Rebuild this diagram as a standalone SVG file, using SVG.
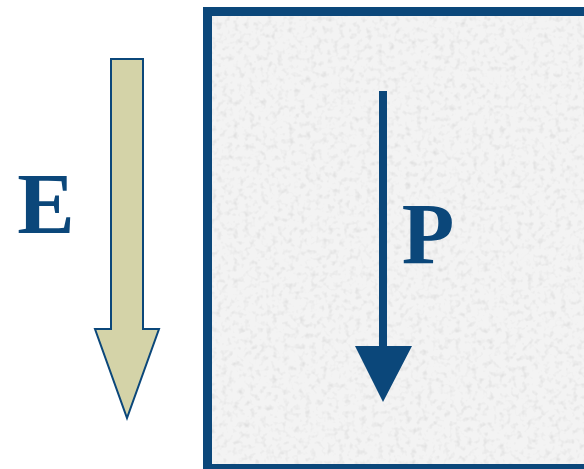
<svg xmlns="http://www.w3.org/2000/svg" width="584" height="469" viewBox="0 0 584 469">
  <defs>
    <style>
      .label { font-family: "Liberation Serif", "Times New Roman", serif; font-weight: bold; font-size: 86px; fill: #0b477a; text-anchor: middle; }
      .field-arrow { fill: #d4d3a8; stroke: #0b477a; stroke-width: 2; stroke-linejoin: miter; }
      .pol-arrow { fill: #0b477a; }
      .slab-frame { fill: none; stroke: #0b477a; stroke-width: 9; }
    </style>
    <!-- soft, blotchy light-grey surface for the slab -->
    <filter id="grain" x="0" y="0" width="100%" height="100%">
      <feTurbulence type="fractalNoise" baseFrequency="0.18" numOctaves="2" seed="7" result="noise"/>
      <feColorMatrix in="noise" type="matrix"
        values="0 0 0 0 0.55
                0 0 0 0 0.55
                0 0 0 0 0.55
                0 0 0 -1.1 0.55" result="specks"/>
      <feFlood flood-color="#f3f3f3" result="base"/>
      <feComposite in="specks" in2="base" operator="over"/>
    </filter>
  </defs>

  <rect width="584" height="469" fill="#ffffff"/>

  <!-- slab -->
  <g id="slab">
    <rect x="212" y="16" width="380" height="448" filter="url(#grain)"/>
    <rect class="slab-frame" x="207.5" y="11.5" width="390" height="457"/>
  </g>

  <!-- applied field arrow -->
  <g id="field-E">
    <path class="field-arrow" d="M111,59 H143 V329 H159 L127,418 L95,329 H111 Z"/>
    <text class="label" x="46" y="233">E</text>
  </g>

  <!-- polarisation arrow inside the slab -->
  <g id="polarization-P">
    <path class="pol-arrow" d="M379,91 H387 V346 H412 L383,402 L355,346 H379 Z"/>
    <text class="label" x="428" y="263">P</text>
  </g>
</svg>
